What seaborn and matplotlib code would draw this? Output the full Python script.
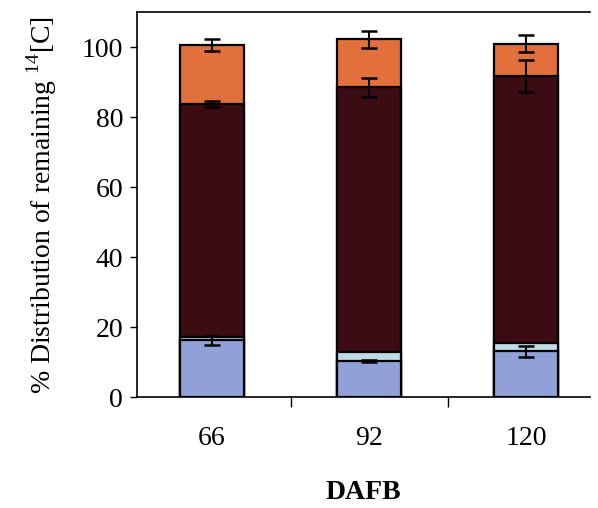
import matplotlib
matplotlib.use("Agg")
import matplotlib.pyplot as plt
import seaborn as sns
import pandas as pd
import numpy as np

# ---- data ----
dafb = ["66", "92", "120"]
seg_blue = [16.2, 10.3, 13.1]
seg_lightblue = [1.0, 2.6, 2.2]
seg_maroon = [66.5, 75.7, 76.5]
seg_orange = [16.9, 13.7, 9.2]
err_blue = [1.3, 0.3, 1.6]
err_maroon = [0.9, 2.7, 4.5]
err_orange = [1.8, 2.4, 2.4]
y_ticks = [0, 20, 40, 60, 80, 100]

sns.set_theme(style="white")
plt.rcParams["font.family"] = ["Liberation Serif", "DejaVu Serif"]
plt.rcParams["mathtext.fontset"] = "custom"
plt.rcParams["mathtext.rm"] = "Liberation Serif"
plt.rcParams["text.color"] = "black"
plt.rcParams["axes.labelcolor"] = "black"
plt.rcParams["xtick.color"] = "black"
plt.rcParams["ytick.color"] = "black"

c1 = np.array(seg_blue)
c2 = c1 + np.array(seg_lightblue)
c3 = c2 + np.array(seg_maroon)
c4 = c3 + np.array(seg_orange)
df = pd.DataFrame({"DAFB": dafb, "c1": c1, "c2": c2, "c3": c3, "c4": c4})

colors = {"c4": "#e2703c", "c3": "#3b0c12", "c2": "#bcdbe6", "c1": "#8fa1d6"}

fig = plt.figure(figsize=(5.98, 5.08), dpi=100)
ax = fig.add_axes([0.229, 0.2185, 0.758, 0.7575])

for col in ["c4", "c3", "c2", "c1"]:
    sns.barplot(data=df, x="DAFB", y=col, order=dafb, color=colors[col],
                width=0.41, edgecolor="black", linewidth=1.6, saturation=1,
                errorbar=None, ax=ax)

pos = np.arange(len(dafb))
for tops, errs in [(c1, err_blue), (c3, err_maroon), (c4, err_orange)]:
    ax.errorbar(pos, tops, yerr=errs, fmt="none", ecolor="black",
                elinewidth=1.5, capsize=6, capthick=1.8, zorder=5)

ax.set_xlim(-0.478, 2.408)
ax.set_ylim(0, 110)
ax.set_yticks(y_ticks)
ax.set_yticklabels([str(v) for v in y_ticks], fontsize=20)
ax.set_xticks(pos)
ax.set_xticklabels(dafb, fontsize=20)
ax.set_xticks([0.5, 1.5], minor=True)
ax.tick_params(axis="x", which="major", length=0, pad=21)
ax.tick_params(axis="x", which="minor", length=7, width=1, direction="out", bottom=True)
ax.tick_params(axis="y", which="major", length=5, width=1, direction="out", left=True, pad=5)

ax.set_xlabel("DAFB", fontsize=20, fontweight="bold", labelpad=21)
ax.set_ylabel(r"% Distribution of remaining $^{14}$[C]", fontsize=20, labelpad=16)

for s in ["left", "bottom", "top"]:
    ax.spines[s].set_visible(True)
    ax.spines[s].set_color("black")
    ax.spines[s].set_linewidth(1.2)
ax.spines["right"].set_visible(False)

fig.savefig("out.png", dpi=100)
